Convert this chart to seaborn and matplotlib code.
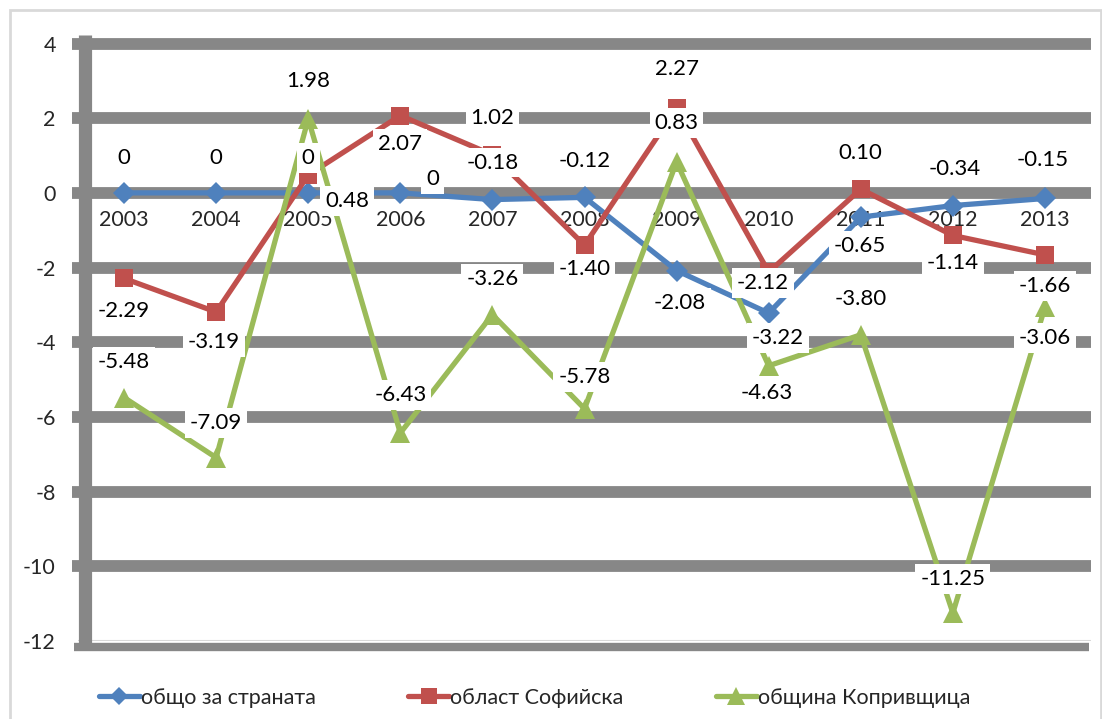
import numpy as np
import pandas as pd
import matplotlib.pyplot as plt
from matplotlib.patches import Rectangle
import seaborn as sns

# данни
godini = [2003, 2004, 2005, 2006, 2007, 2008, 2009, 2010, 2011, 2012, 2013]
obshto = [0, 0, 0, 0, -0.18, -0.12, -2.08, -3.22, -0.65, -0.34, -0.15]
sofiyska = [-2.29, -3.19, 0.48, 2.07, 1.02, -1.40, 2.27, -2.12, 0.10, -1.14, -1.66]
koprivshtica = [-5.48, -7.09, 1.98, -6.43, -3.26, -5.78, 0.83, -4.63, -3.80, -11.25, -3.06]
serii = ['общо за страната', 'област Софийска', 'община Копривщица']
y_ticks = [4, 2, 0, -2, -4, -6, -8, -10, -12]

tsvetove = ['#4F81BD', '#C0504D', '#9BBB59']
markeri = ['D', 's', '^']
razmeri = [11, 13, 15]

# отместване на етикетите (в пиксели, x надясно, y надолу)
otm = [
    [(0, -35), (0, -35), (0, -35), (32, -14), (0, -37), (0, -36), (3, 32), (9, 25), (-1, 29), (2, -37), (-2, -38)],
    [(0, 33), (-2, 30), (39, 26), (0, 28), (0, -37), (0, 24), (0, -39), (-6, 11), (0, -36), (0, 28), (0, 31)],
    [(0, -36), (0, -35), (0, -38), (0, -38), (0, -36), (0, -32), (0, -39), (-2, 27), (0, -36), (0, -34), (0, 31)],
]

df = pd.DataFrame({
    'година': godini * 3,
    'стойност': obshto + sofiyska + koprivshtica,
    'серия': [serii[0]] * 11 + [serii[1]] * 11 + [serii[2]] * 11,
})

sns.set_style('white')
plt.rcParams['font.family'] = ['Lato', 'Noto Sans', 'DejaVu Sans']

fig = plt.figure(figsize=(11.02, 7.19), dpi=100)
ax = fig.add_axes([78 / 1102, 1 - 641 / 719, 1013 / 1102, (641 - 43.5) / 719])

siv = '#878787'
# дебели хоризонтални линии
for t in y_ticks:
    if t == -12:
        ax.axhline(t, color='#D9D9D9', lw=1.5, zorder=1)
    else:
        ax.axhline(t, xmin=-0.006, xmax=1, color=siv, lw=8.5, zorder=1, clip_on=False,
                   solid_capstyle='butt')
ax.axhline(-12.17, xmin=-0.004, xmax=0.998, color=siv, lw=6, zorder=1, clip_on=False,
           solid_capstyle='butt')
# дебела вертикална ос
ax.plot([0.007, 0.007], [-12.25, 4.22], transform=ax.get_yaxis_transform(), color=siv,
        lw=9.5, zorder=1, clip_on=False, solid_capstyle='butt')

sns.lineplot(data=df, x='година', y='стойност', hue='серия', style='серия',
             palette=tsvetove, markers=markeri, dashes=False, lw=3.8,
             markeredgewidth=0, ax=ax, zorder=3)
ax.get_legend().remove()
seriyni = [ln for ln in ax.get_lines() if len(ln.get_xdata()) == len(godini)]
for ln in seriyni:
    c = ln.get_color()
    for col, ms in zip(tsvetove, razmeri):
        if plt.matplotlib.colors.same_color(c, col):
            ln.set_markersize(ms)

# етикети
for vals, off in zip([obshto, sofiyska, koprivshtica], otm):
    for g, v, (dx, dy) in zip(godini, vals, off):
        txt = '0' if v == 0 else f'{v:.2f}'
        ax.annotate(txt, (g, v), xytext=(dx * 0.72, -dy * 0.72), textcoords='offset points',
                    ha='center', va='center', fontsize=16, color='black', zorder=6,
                    bbox=dict(boxstyle='square,pad=0.22', fc='white', ec='none'))

ax.set_xlim(2002.5, 2013.5)
ax.set_ylim(-12, 4)
ax.set_xticks(godini)
ax.set_xticklabels([str(g) for g in godini])
ax.set_yticks(y_ticks)
ax.set_yticklabels([str(t) for t in y_ticks])
ax.spines['bottom'].set_position(('data', 0))
for s in ax.spines.values():
    s.set_visible(False)
ax.tick_params(axis='x', length=0, pad=12, labelsize=15.5)
ax.tick_params(axis='y', length=0, pad=16, labelsize=15.5)
ax.set_xlabel('')
ax.set_ylabel('')

# легенда
handles = [plt.Line2D([], [], color=c, marker=m, ms=s * 0.85, lw=3.8, markeredgewidth=0)
           for c, m, s in zip(tsvetove, markeri, razmeri)]
fig.legend(handles, serii, loc='center', bbox_to_anchor=(0.485, 1 - 698 / 719), ncol=3,
           frameon=False, fontsize=15.5, handlelength=1.9, handletextpad=0.05,
           columnspacing=4.3)

# рамка
fig.patches.append(Rectangle((10 / 1102, -0.01), 1 - 11 / 1102, 1 - 10 / 719 + 0.01,
                             transform=fig.transFigure, fill=False, ec='#D9D9D9', lw=2))

fig.savefig('out.png', dpi=100)
